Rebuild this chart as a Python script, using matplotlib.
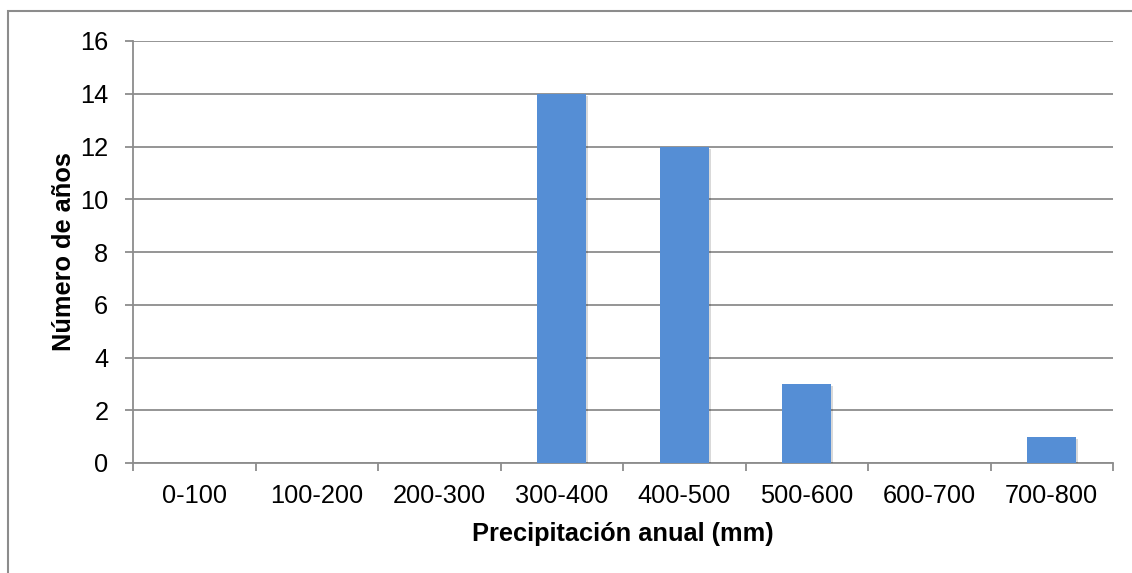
import matplotlib
matplotlib.use("Agg")
import matplotlib.pyplot as plt
import matplotlib.patheffects as pe
from matplotlib.patches import Rectangle
import numpy as np

categories = ["0-100", "100-200", "200-300", "300-400", "400-500",
              "500-600", "600-700", "700-800"]
years = [0, 0, 0, 14, 12, 3, 0, 1]
y_ticks = [0, 2, 4, 6, 8, 10, 12, 14, 16]

plt.rcParams["font.family"] = ["Liberation Sans", "DejaVu Sans"]

W, H = 1132, 573
fig = plt.figure(figsize=(W / 100, H / 100), dpi=100)
ax = fig.add_axes([133 / W, 1 - 463 / H, (1113 - 133) / W, (463 - 41) / H])

grid_c = "#8c8c8c"
bar_c = "#558ed5"

x = np.arange(len(categories))
bars = ax.bar(x, years, width=0.4, color=bar_c, zorder=3)
for b in bars:
    b.set_path_effects([pe.SimplePatchShadow(offset=(1.5, -1.5), shadow_rgbFace="#000000", alpha=0.15),
                        pe.Normal()])

ax.set_xlim(-0.5, len(categories) - 0.5)
ax.set_ylim(0, 16)
ax.set_yticks(y_ticks)
ax.yaxis.grid(True, color=grid_c, linewidth=1.3, zorder=0)
ax.set_axisbelow(True)

for s in ["top", "right"]:
    ax.spines[s].set_visible(False)
for s in ["left", "bottom"]:
    ax.spines[s].set_color(grid_c)
    ax.spines[s].set_linewidth(1.3)

ax.set_xticks(x)
ax.set_xticklabels(categories)
ax.set_xticks(np.arange(-0.5, len(categories)), minor=True)
ax.tick_params(axis="x", which="major", length=0, pad=15, labelsize=18.3, colors="black")
ax.tick_params(axis="x", which="minor", length=5.5, width=1.3, color=grid_c, direction="out")
ax.tick_params(axis="y", length=5.8, width=1.3, color=grid_c, pad=12, labelsize=18.3, labelcolor="black")

ax.set_xlabel("Precipitación anual (mm)", fontsize=18.3, fontweight="bold", labelpad=10)
ax.set_ylabel("Número de años", fontsize=18.3, fontweight="bold", labelpad=3)

fig.patches.append(Rectangle((8 / W, -0.1), 1.2, 1 - 11 / H + 0.1, transform=fig.transFigure,
                             fill=False, edgecolor="#8c8c8c", linewidth=1.5))

fig.savefig("out.png", dpi=100)
